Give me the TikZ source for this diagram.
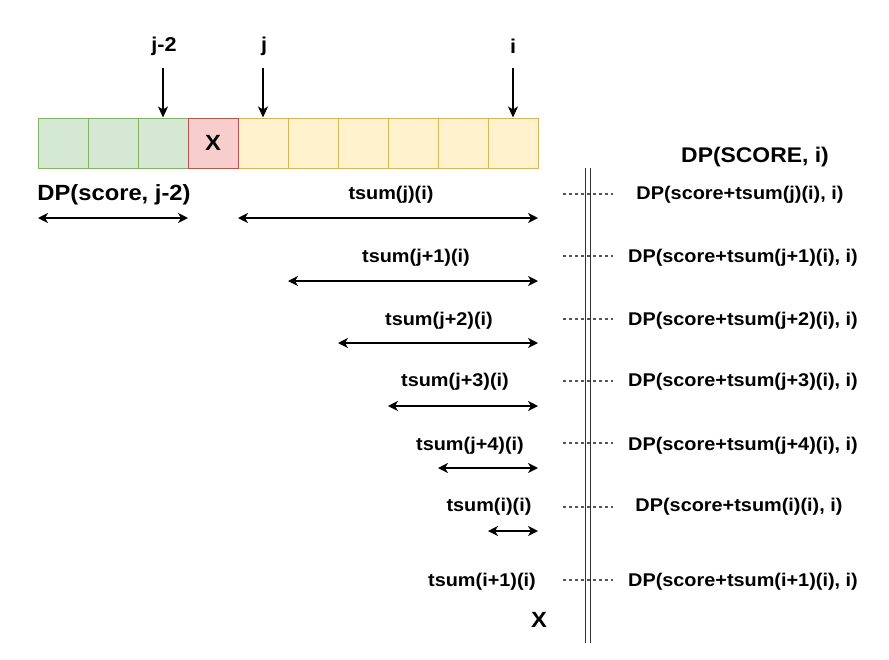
\documentclass[tikz,border=0pt]{standalone}
\usepackage{fontspec}
\setmainfont{Liberation Sans}[FakeStretch=1.08]
\usetikzlibrary{arrows.meta}
\definecolor{gfill}{HTML}{D5E8D4}
\definecolor{gdraw}{HTML}{82B366}
\definecolor{rfill}{HTML}{F8CECC}
\definecolor{rdraw}{HTML}{B85450}
\definecolor{yfill}{HTML}{FFF2CC}
\definecolor{ydraw}{HTML}{D6B656}
\definecolor{dashgray}{HTML}{555555}
\definecolor{wallgray}{HTML}{333333}
\begin{document}
\begin{tikzpicture}[x=1pt,y=-1pt,
  cell/.style={draw, line width=1pt, minimum width=50pt, minimum height=50pt, inner sep=0pt},
  gcell/.style={cell, fill=gfill, draw=gdraw},
  rcell/.style={cell, fill=rfill, draw=rdraw},
  ycell/.style={cell, fill=yfill, draw=ydraw},
  lbl/.style={inner sep=0pt, font=\fontsize{18.4}{22}\selectfont\bfseries},
  biglbl/.style={inner sep=0pt, font=\fontsize{20}{24}\selectfont\bfseries},
  arr/.style={line width=1.5pt, -{Stealth[length=11pt,width=10pt,inset=3pt]}},
  harr/.style={line width=1.5pt, {Stealth[length=10pt,width=10pt,inset=3pt]}-{Stealth[length=10pt,width=10pt,inset=3pt]}},
  dashln/.style={line width=1.1pt, draw=dashgray, dash pattern=on 3pt off 3pt},
  wall/.style={line width=1.5pt, draw=wallgray}
]
\useasboundingbox[fill=white] (0,0) rectangle (889,659);

% cells
\node[gcell] (c1) at (63,143) {};
\node[gcell] (c2) at (113,143) {};
\node[gcell] (c3) at (163,143) {};
\node[ycell] (c5) at (263,143) {};
\node[ycell] (c6) at (313,143) {};
\node[ycell] (c7) at (363,143) {};
\node[ycell] (c8) at (413,143) {};
\node[ycell] (c9) at (463,143) {};
\node[ycell] (c10) at (513,143) {};
\node[rcell, font=\fontsize{22}{26}\selectfont\bfseries] (c4) at (213,143) {X};

% index labels and arrows
\node[biglbl] (lj2) at (164,46) {j-2};
\node[biglbl] (lj) at (264,46) {j};
\node[biglbl] (li) at (513,46) {i};
\coordinate (tj2) at (163,68);
\coordinate (tj) at (263,68);
\coordinate (ti) at (513,68);
\draw[arr] (tj2) -- (c3.north);
\draw[arr] (tj) -- (c5.north);
\draw[arr] (ti) -- (c10.north);

% DP(score, j-2)
\node[inner sep=0pt, font=\fontsize{22}{26}\selectfont\bfseries] (dpj2) at (114,195) {DP(score, j-2)};
\coordinate (dl) at (38,218);
\coordinate (dr) at (188,218);
\draw[harr] (dl) -- (dr);

% wall
\coordinate (w1t) at (585.5,168);
\coordinate (w1b) at (585.5,643);
\coordinate (w2t) at (590.5,168);
\coordinate (w2b) at (590.5,643);
\draw[wall] (w1t) -- (w1b);
\draw[wall] (w2t) -- (w2b);

\node[inner sep=0pt, font=\fontsize{21.2}{25}\selectfont\bfseries] (dphead) at (755,157) {DP(SCORE, i)};

% rows
\node[lbl] (t0) at (391,195) {tsum(j)(i)};
\node[lbl] (t1) at (416,258) {tsum(j+1)(i)};
\node[lbl] (t2) at (439,321) {tsum(j+2)(i)};
\node[lbl] (t3) at (455,382) {tsum(j+3)(i)};
\node[lbl] (t4) at (470,446) {tsum(j+4)(i)};
\node[lbl] (t5) at (489,507) {tsum(i)(i)};
\node[lbl] (t6) at (482,582) {tsum(i+1)(i)};

\coordinate (a0l) at (238,218); \coordinate (a0r) at (538,218);
\coordinate (a1l) at (288,281); \coordinate (a1r) at (538,281);
\coordinate (a2l) at (338,343); \coordinate (a2r) at (538,343);
\coordinate (a3l) at (388,406); \coordinate (a3r) at (538,406);
\coordinate (a4l) at (438,468); \coordinate (a4r) at (538,468);
\coordinate (a5l) at (488,531); \coordinate (a5r) at (538,531);
\draw[harr] (a0l) -- (a0r);
\draw[harr] (a1l) -- (a1r);
\draw[harr] (a2l) -- (a2r);
\draw[harr] (a3l) -- (a3r);
\draw[harr] (a4l) -- (a4r);
\draw[harr] (a5l) -- (a5r);

\node[lbl] (d0) at (740,195) {DP(score+tsum(j)(i), i)};
\node[lbl] (d1) at (743,258) {DP(score+tsum(j+1)(i), i)};
\node[lbl] (d2) at (743,321) {DP(score+tsum(j+2)(i), i)};
\node[lbl] (d3) at (743,382) {DP(score+tsum(j+3)(i), i)};
\node[lbl] (d4) at (743,446) {DP(score+tsum(j+4)(i), i)};
\node[lbl] (d5) at (739,507) {DP(score+tsum(i)(i), i)};
\node[lbl] (d6) at (743,582) {DP(score+tsum(i+1)(i), i)};

\foreach \k/\yy in {0/194,1/256,2/319,3/381,4/443,5/507,6/580}{
  \coordinate (s\k l) at (563,\yy);
  \coordinate (s\k r) at (613,\yy);
  \draw[dashln] (s\k l) -- (s\k r);
}

\node[inner sep=0pt, font=\fontsize{22}{26}\selectfont\bfseries] (xb) at (539,620) {X};
\end{tikzpicture}
\end{document}
